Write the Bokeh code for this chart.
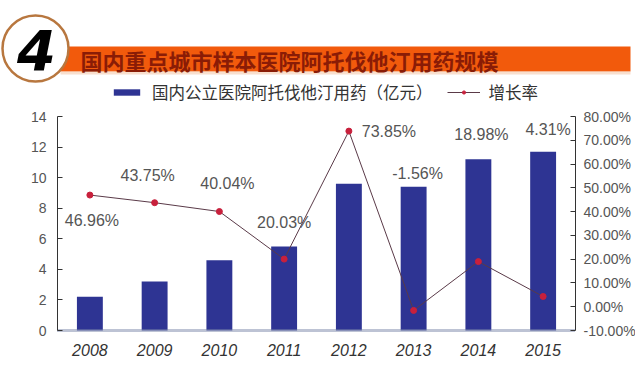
from bokeh.plotting import figure
from bokeh.models import (Range1d, LinearAxis, FixedTicker, PrintfTickFormatter,
                          Legend, LegendItem, ColumnDataSource)
from bokeh.core.properties import value
from bokeh.embed import file_html
from bokeh.resources import INLINE

# ---- data ----
years = ["2008", "2009", "2010", "2011", "2012", "2013", "2014", "2015"]
sales = [2.2, 3.2, 4.6, 5.5, 9.6, 9.4, 11.2, 11.7]                 # 亿元
growth = [46.96, 43.75, 40.04, 20.03, 73.85, -1.56, 18.98, 4.31]    # %
left_ticks = [0, 2, 4, 6, 8, 10, 12, 14]
right_ticks = [-10, 0, 10, 20, 30, 40, 50, 60, 70, 80]
left_lim = (0, 14)
right_lim = (-10, 80)
title_text = "国内重点城市样本医院阿托伐他汀用药规模"
bar_label = "国内公立医院阿托伐他汀用药（亿元）"
line_label = "增长率"

# label placement offsets (screen px) -- styling only
lab_dx = [2, -7, 8, 0, 40, 4, 3, 5]
lab_dy = [25, -27, -28, -37, 0, -137, -127, -167]

CJK = "Noto Sans CJK SC"
LAT = "Liberation Sans"

# ---- canvas geometry (px) ----
W, H = 635, 362
AX_L, AX_R, AX_T, AX_B = 57, 575, 116, 330   # plotting area of the axes
n = len(years)
kx = (AX_R - AX_L) / n
ky = (AX_B - AX_T) / (left_lim[1] - left_lim[0])
kr = (AX_B - AX_T) / (right_lim[1] - right_lim[0])
x_start, x_end = -AX_L / kx, (W - AX_L) / kx
y_start, y_end = left_lim[0] - (H - AX_B) / ky, left_lim[1] + AX_T / ky
r_start, r_end = right_lim[0] - (H - AX_B) / kr, right_lim[1] + AX_T / kr


def X(px):
    return x_start + px / kx


def Y(py):
    return y_start + (H - py) / ky


xpos = [i + 0.5 for i in range(n)]

p = figure(width=W, height=H, x_range=Range1d(x_start, x_end), y_range=Range1d(y_start, y_end),
           output_backend="svg", toolbar_location=None,
           min_border_left=0, min_border_right=0, min_border_top=0, min_border_bottom=0)
p.grid.visible = False
p.outline_line_color = None
p.extra_y_ranges = {"pct": Range1d(r_start, r_end)}

# ---- banner ----
p.quad(left=[X(60)], right=[X(630)], top=[Y(46)], bottom=[Y(71)],
       fill_color="#f25a0c", line_color=None)
p.quad(left=[X(60)], right=[X(630)], top=[Y(71)], bottom=[Y(74)],
       fill_color="#f3c9ad", line_color=None, fill_alpha=0.6)
p.scatter(x=[X(35)], y=[Y(48)], size=66, marker="circle", fill_color="white",
          line_color="#b8773f", line_width=2.5)
p.text(x=[X(36)], y=[Y(49)], text=["4"], text_font=value("DejaVu Sans"), text_font_size="56px",
       text_font_style="bold italic", text_color="black", text_align="center", text_baseline="middle")
p.text(x=[X(80)], y=[Y(59)], text=[title_text], text_font=value(CJK), text_font_size="22px",
       text_font_style="bold", text_color="#8a1c06", text_align="left", text_baseline="middle")

# ---- data marks ----
bars = p.vbar(x=xpos, top=sales, width=0.4, fill_color="#2e3493", line_color=None)

src = ColumnDataSource(dict(x=xpos, y=growth, t=[f"{g:.2f}%" for g in growth],
                            dx=lab_dx, dy=lab_dy))
ln = p.line("x", "y", source=src, y_range_name="pct", line_color="#5a3a48", line_width=1)
dots = p.scatter("x", "y", source=src, y_range_name="pct", size=6, marker="circle",
                 fill_color="#c8203c", line_color="#c8203c")
p.text("x", "y", text="t", source=src, y_range_name="pct", x_offset="dx", y_offset="dy",
       text_font=value(LAT), text_font_size="16px", text_color="#555555",
       text_align="center", text_baseline="middle")

# ---- axes ----
ya = p.yaxis[0]
ya.fixed_location = 0
ya.bounds = left_lim
ya.ticker = FixedTicker(ticks=left_ticks)
ya.axis_line_color = "#333333"
ya.major_tick_line_color = "#333333"
ya.major_tick_in = 5
ya.major_tick_out = 0
ya.minor_tick_line_color = None
ya.major_label_standoff = 11
ya.major_label_text_font = LAT
ya.major_label_text_font_size = "14px"
ya.major_label_text_color = "#555555"

ra = LinearAxis(y_range_name="pct", ticker=FixedTicker(ticks=right_ticks),
                formatter=PrintfTickFormatter(format="%.2f%%"))
ra.fixed_location = n
ra.bounds = right_lim
ra.axis_line_color = "#333333"
ra.major_tick_line_color = "#333333"
ra.major_tick_in = 5
ra.major_tick_out = 0
ra.minor_tick_line_color = None
ra.major_label_standoff = 8
ra.major_label_text_font = LAT
ra.major_label_text_font_size = "14px"
ra.major_label_text_color = "#555555"
p.add_layout(ra, "right")

xa = p.xaxis[0]
xa.fixed_location = 0
xa.bounds = (0, n)
xa.ticker = FixedTicker(ticks=xpos)
xa.major_label_overrides = {x: y for x, y in zip(xpos, years)}
xa.minor_tick_line_color = None
xa.axis_line_color = "#7a86a8"
xa.axis_line_width = 3
xa.axis_line_dash = "1 1"
xa.major_tick_line_color = None
xa.major_tick_out = 0
xa.major_tick_in = 0
xa.major_label_standoff = 13
xa.major_label_text_font = LAT
xa.major_label_text_font_size = "16px"
xa.major_label_text_font_style = "italic"
xa.major_label_text_color = "#333333"

legend = Legend(items=[LegendItem(label=bar_label, renderers=[bars]),
                       LegendItem(label=line_label, renderers=[ln, dots])],
                orientation="horizontal", location=(110, H - 104),
                glyph_width=33, glyph_height=8, label_standoff=9, spacing=14,
                padding=0, margin=0, border_line_color=None, background_fill_alpha=0,
                label_text_font=CJK, label_text_font_size="16.5px", label_text_color="#333333")
p.add_layout(legend)

open("out.html", "w").write(file_html(p, INLINE))
